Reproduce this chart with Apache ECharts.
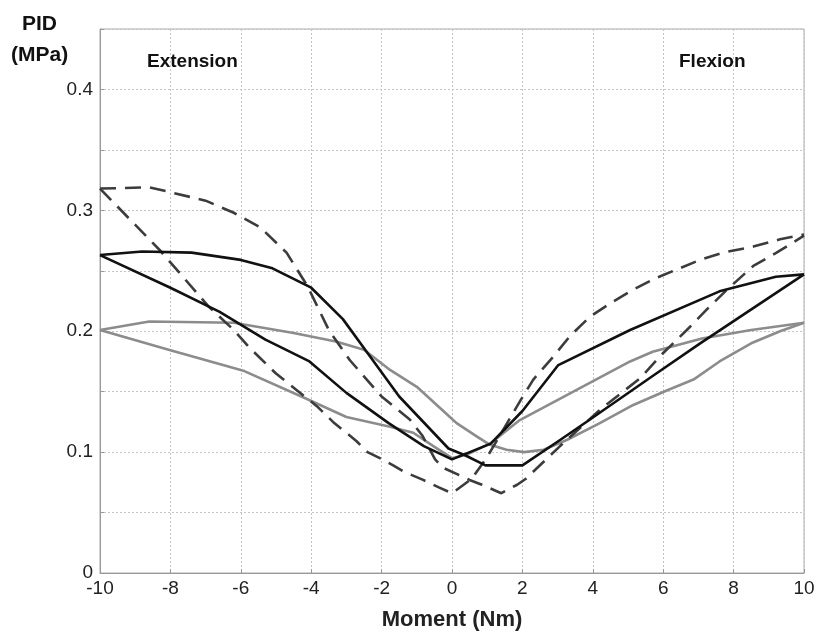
<!DOCTYPE html>
<html>
<head>
<meta charset="utf-8">
<script src="https://cdn.jsdelivr.net/npm/echarts@6/dist/echarts.min.js"></script>
<style>
html,body{margin:0;padding:0;background:#fff;}
#chart{width:818px;height:637px;}
</style>
</head>
<body>
<div id="chart"></div>
<script>
// Tick labels
const xTicks = [-10, -8, -6, -4, -2, 0, 2, 4, 6, 8, 10];
const yTicks = [0, 0.1, 0.2, 0.3, 0.4];

// Black solid, branch A (high on extension side, low on flexion side)
const blackA = [[-10,0.263],[-8.8,0.266],[-7.4,0.265],[-6,0.259],[-5.1,0.252],[-4,0.236],[-3.1,0.21],[-2.4,0.182],[-1.5,0.146],[-0.1,0.103],[0.4,0.097],[0.95,0.089],[2,0.089],[3.07,0.11],[3.92,0.127],[5.7,0.163],[7.05,0.19],[10,0.247]];
// Black solid, branch B
const blackB = [[-10,0.263],[-8,0.236],[-6.6,0.216],[-5.3,0.193],[-4.05,0.175],[-3,0.149],[-1.8,0.124],[-0.8,0.105],[0,0.094],[1.1,0.107],[2,0.134],[3.02,0.172],[5.06,0.201],[7.6,0.233],[9.2,0.245],[10,0.247]];
// Dashed, branch A
const dashA = [[-10,0.318],[-8.6,0.319],[-8,0.315],[-7,0.308],[-6.2,0.298],[-5.45,0.286],[-4.7,0.265],[-4.1,0.237],[-3.5,0.201],[-2.9,0.176],[-2,0.146],[-1.2,0.127],[-0.85,0.114],[-0.48,0.094],[-0.25,0.087],[0.5,0.077],[0.85,0.073],[1.4,0.066],[1.85,0.073],[2.1,0.078],[3.07,0.105],[4.2,0.135],[5.34,0.161],[6,0.182],[6.67,0.201],[7.24,0.218],[7.8,0.234],[8.56,0.254],[9.22,0.265],[10,0.279]];
// Dashed, branch B
const dashB = [[-10,0.318],[-8.3,0.267],[-6.9,0.22],[-6.2,0.201],[-5.74,0.186],[-5,0.165],[-4.4,0.151],[-3.84,0.138],[-3.38,0.125],[-2.71,0.109],[-2.4,0.1],[-2.05,0.095],[-1.67,0.089],[-1.38,0.084],[-0.82,0.077],[-0.39,0.071],[0,0.066],[0.33,0.073],[0.56,0.078],[1,0.096],[1.95,0.143],[2.31,0.16],[2.88,0.179],[3.35,0.196],[3.92,0.212],[4.49,0.223],[5.06,0.233],[5.72,0.243],[6.38,0.251],[7.05,0.259],[7.7,0.265],[8.56,0.27],[9.32,0.276],[10,0.28]];
// Gray solid, branch A
const grayA = [[-10,0.201],[-8.6,0.208],[-6.2,0.207],[-4.5,0.1985],[-3.3,0.1915],[-2.5,0.1846],[-1.76,0.168],[-1,0.154],[-0.06,0.129],[0.13,0.124],[0.7,0.113],[1.08,0.106],[1.55,0.102],[2.05,0.1],[2.6,0.102],[3.26,0.11],[4.2,0.124],[5.15,0.139],[6.1,0.151],[6.86,0.16],[7.6,0.175],[8.5,0.19],[9.32,0.2],[10,0.207]];
// Gray solid, branch B
const grayB = [[-10,0.201],[-8.1,0.185],[-5.9,0.167],[-4.2,0.145],[-3,0.129],[-1.76,0.121],[-1.1,0.116],[-0.53,0.105],[0,0.095],[0.42,0.098],[1.08,0.107],[1.9,0.126],[5.06,0.175],[5.7,0.183],[7.1,0.194],[8.5,0.201],[10,0.207]];

const chart = echarts.init(document.getElementById('chart'), null, {renderer: 'canvas'});
const FONT = '"Liberation Sans", Arial, sans-serif';

function lineSeries(data, color, width, type) {
  return {
    type: 'line', data: data, symbol: 'none', smooth: false,
    lineStyle: {color: color, width: width, type: type || 'solid', cap: 'butt', join: 'round'},
    z: 3, animation: false
  };
}

const option = {
  backgroundColor: '#fff',
  animation: false,
  grid: {left: 100, right: 14, top: 29, bottom: 64, show: true, borderColor: '#aaa', borderWidth: 1, backgroundColor: 'transparent'},
  xAxis: {
    type: 'value', min: -10, max: 10, interval: 2,
    axisLine: {show: true, onZero: false, lineStyle: {color: '#999', width: 1}},
    axisTick: {show: true, inside: true, length: 4, lineStyle: {color: '#999'}},
    axisLabel: {color: '#222', fontFamily: FONT, fontSize: 19, margin: 6,
      formatter: v => xTicks.includes(v) ? String(v) : ''},
    splitLine: {show: true, lineStyle: {color: '#c4c4c4', type: [2, 2], width: 1}}
  },
  yAxis: {
    type: 'value', min: 0, max: 0.45, interval: 0.05,
    axisLine: {show: true, onZero: false, lineStyle: {color: '#999', width: 1}},
    axisTick: {show: true, inside: true, length: 4, lineStyle: {color: '#999'}},
    axisLabel: {color: '#222', fontFamily: FONT, fontSize: 19, margin: 7,
      formatter: v => {
        const t = yTicks.find(k => Math.abs(k - v) < 1e-6);
        return t === undefined ? '' : (t === 0 ? '0' : t.toFixed(1));
      }},
    splitLine: {show: true, lineStyle: {color: '#c4c4c4', type: [2, 2], width: 1}}
  },
  series: [
    lineSeries(grayA, '#8c8c8c', 2.6),
    lineSeries(grayB, '#8c8c8c', 2.6),
    lineSeries(dashA, '#3c3c3c', 2.6, [16, 9]),
    lineSeries(dashB, '#3c3c3c', 2.6, [16, 9]),
    lineSeries(blackA, '#111111', 2.6),
    lineSeries(blackB, '#111111', 2.6)
  ],
  graphic: [
    {type: 'text', x: 22, y: 24, style: {text: 'PID', font: 'bold 21px ' + FONT, fill: '#111', verticalAlign: 'middle'}},
    {type: 'text', x: 11, y: 55, style: {text: '(MPa)', font: 'bold 21px ' + FONT, fill: '#111', verticalAlign: 'middle'}},
    {type: 'text', x: 147, y: 62, style: {text: 'Extension', font: 'bold 19px ' + FONT, fill: '#111', verticalAlign: 'middle'}},
    {type: 'text', x: 679, y: 62, style: {text: 'Flexion', font: 'bold 19px ' + FONT, fill: '#111', verticalAlign: 'middle'}},
    {type: 'text', x: 452, y: 620, style: {text: 'Moment (Nm)', font: 'bold 22px ' + FONT, fill: '#222', align: 'center', verticalAlign: 'middle'}}
  ]
};
chart.setOption(option);
</script>
</body>
</html>
